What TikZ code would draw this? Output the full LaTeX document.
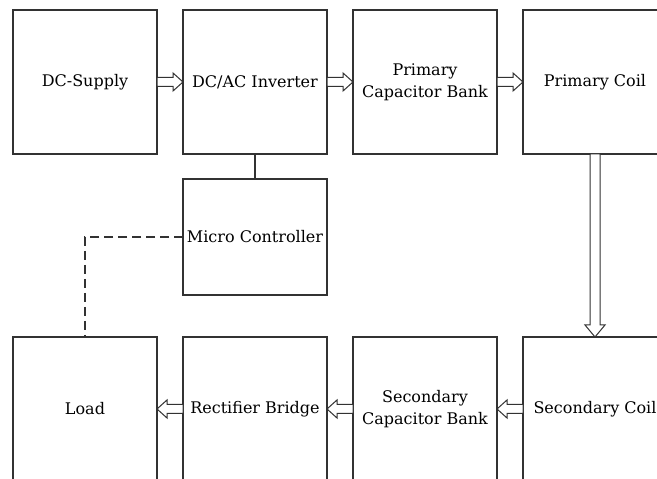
\documentclass[tikz,border=0pt]{standalone}
\usepackage{fontspec}
\setmainfont{DejaVu Serif}
\usetikzlibrary{calc}
\definecolor{ln}{RGB}{50,50,50}
\newcommand\myRArrow[2]{\draw[arr] let \p1=(#1), \p2=(#2) in
  (\x1,\y1+4.5pt) -- (\x2-10pt,\y1+4.5pt) -- (\x2-10pt,\y1+9pt) -- (\x2,\y1)
  -- (\x2-10pt,\y1-9pt) -- (\x2-10pt,\y1-4.5pt) -- (\x1,\y1-4.5pt) -- cycle;}
\newcommand\myLArrow[2]{\draw[arr] let \p1=(#1), \p2=(#2) in
  (\x1,\y1+4.5pt) -- (\x2+10pt,\y1+4.5pt) -- (\x2+10pt,\y1+9pt) -- (\x2,\y1)
  -- (\x2+10pt,\y1-9pt) -- (\x2+10pt,\y1-4.5pt) -- (\x1,\y1-4.5pt) -- cycle;}
\newcommand\myDArrow[2]{\draw[arr] let \p1=(#1), \p2=(#2) in
  (\x1-5pt,\y1) -- (\x1-5pt,\y2+12pt) -- (\x1-10pt,\y2+12pt) -- (\x1,\y2)
  -- (\x1+10pt,\y2+12pt) -- (\x1+5pt,\y2+12pt) -- (\x1+5pt,\y1) -- cycle;}
\begin{document}
\begin{tikzpicture}[x=1pt,y=1pt,
  blk/.style={draw=ln, line width=1.1pt, minimum width=144pt, minimum height=144pt,
    inner sep=0pt, outer sep=0pt, align=center, font=\fontsize{16}{22}\selectfont},
  arr/.style={draw=ln, line width=1pt, fill=white, line join=miter},
  ln/.style={draw=ln, line width=1.1pt}]
\useasboundingbox (0,0) rectangle (657,479);
\clip (0,0) rectangle (657,479);
\fill[white] (0,0) rectangle (657,479);
% top row
\node[blk] (dc)  at (85,397)  {DC-Supply};
\node[blk] (inv) at (255,397) {DC/AC Inverter};
\node[blk] (pcb) at (425,397) {Primary\\Capacitor Bank};
\node[blk] (pc)  at (595,397) {Primary Coil};
% controller
\node[blk, minimum height=116pt] (mc) at (255,242) {Micro Controller};
% bottom row
\node[blk] (load) at (85,70)  {Load};
\node[blk] (rb)   at (255,70) {Rectifier Bridge};
\node[blk] (scb)  at (425,70) {Secondary\\Capacitor Bank};
\node[blk] (sc)   at (595,70) {Secondary Coil};
% connectors
\myRArrow{dc.east}{inv.west}
\myRArrow{inv.east}{pcb.west}
\myRArrow{pcb.east}{pc.west}
\myDArrow{pc.south}{sc.north}
\myLArrow{sc.west}{scb.east}
\myLArrow{scb.west}{rb.east}
\myLArrow{rb.west}{load.east}
\draw[ln] (inv.south) -- (mc.north);
\draw[ln, dash pattern=on 9pt off 5pt] (mc.west) -| (load.north);
\end{tikzpicture}
\end{document}
